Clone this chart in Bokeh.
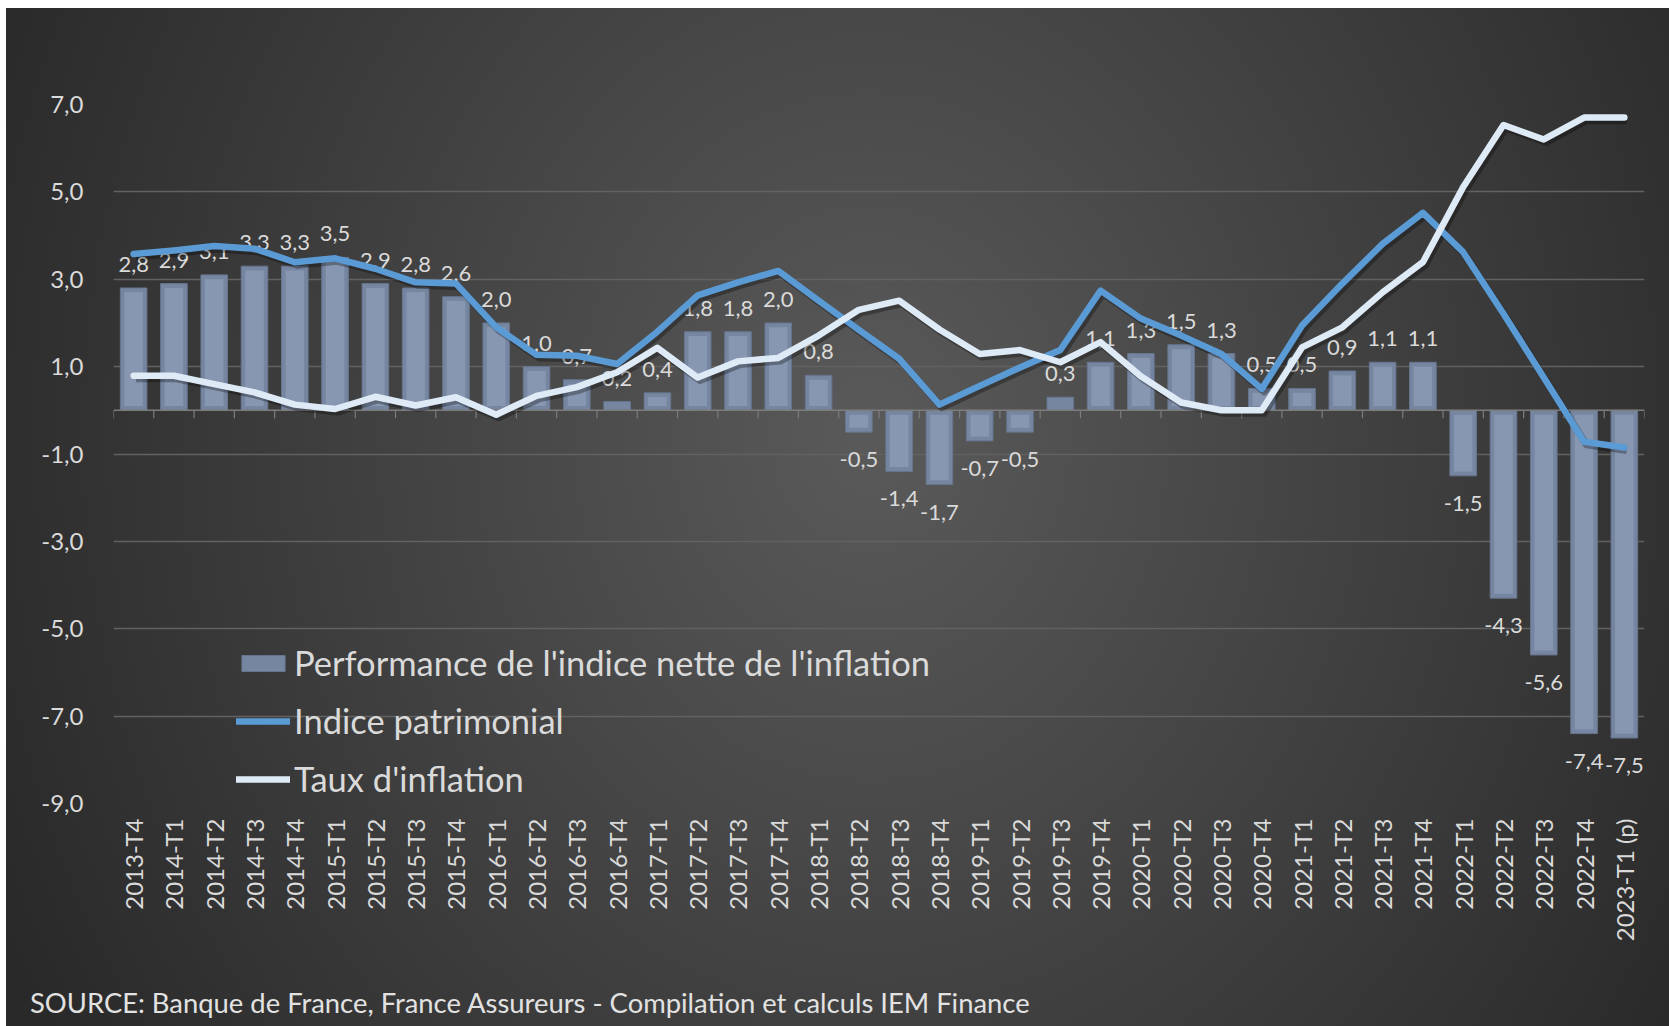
from bokeh.plotting import figure
from bokeh.models import FixedTicker, Legend, Div, Column
from bokeh.core.properties import value
from bokeh.embed import file_html
from bokeh.resources import INLINE

categories = ["2013-T4",
              "2014-T1", "2014-T2", "2014-T3", "2014-T4",
              "2015-T1", "2015-T2", "2015-T3", "2015-T4",
              "2016-T1", "2016-T2", "2016-T3", "2016-T4",
              "2017-T1", "2017-T2", "2017-T3", "2017-T4",
              "2018-T1", "2018-T2", "2018-T3", "2018-T4",
              "2019-T1", "2019-T2", "2019-T3", "2019-T4",
              "2020-T1", "2020-T2", "2020-T3", "2020-T4",
              "2021-T1", "2021-T2", "2021-T3", "2021-T4",
              "2022-T1", "2022-T2", "2022-T3", "2022-T4",
              "2023-T1 (p)"]

performance_nette = [2.8, 2.9, 3.1, 3.3, 3.3, 3.5, 2.9, 2.8, 2.6, 2.0,
                     1.0, 0.7, 0.2, 0.4, 1.8, 1.8, 2.0, 0.8, -0.5, -1.4,
                     -1.7, -0.7, -0.5, 0.3, 1.1, 1.3, 1.5, 1.3, 0.5, 0.5,
                     0.9, 1.1, 1.1, -1.5, -4.3, -5.6, -7.4, -7.5]

indice_patrimonial = [3.58, 3.66, 3.76, 3.70, 3.39, 3.48, 3.24, 2.93, 2.90, 1.90,
                      1.27, 1.25, 1.06, 1.80, 2.63, 2.93, 3.19, 2.51, 1.84, 1.18,
                      0.13, 0.56, 0.98, 1.38, 2.74, 2.10, 1.71, 1.29, 0.49, 1.94,
                      2.90, 3.81, 4.52, 3.62, 2.21, 0.75, -0.72, -0.85]

taux_inflation = [0.79, 0.79, 0.60, 0.41, 0.13, 0.03, 0.31, 0.11, 0.30, -0.10,
                  0.33, 0.53, 0.87, 1.43, 0.75, 1.12, 1.20, 1.71, 2.30, 2.51,
                  1.85, 1.29, 1.38, 1.10, 1.56, 0.78, 0.18, 0.00, 0.00, 1.44,
                  1.90, 2.70, 3.39, 5.11, 6.53, 6.20, 6.70, 6.70]

y_ticks = [-9, -7, -5, -3, -1, 1, 3, 5, 7]

legend_labels = ["Performance de l'indice nette de l'inflation",
                 "Indice patrimonial",
                 "Taux d'inflation"]

source_text = "SOURCE: Banque de France, France Assureurs - Compilation et calculs IEM Finance"

FONT = "Lato"
TXT = "#dadada"

n = len(categories)
xs = [i + 0.5 for i in range(n)]

p = figure(width=1669, height=985, output_backend="svg", toolbar_location=None,
           x_range=(0, n), y_range=(-9, 7),
           min_border_left=113, min_border_right=25,
           min_border_top=104, min_border_bottom=182,
           background_fill_color=None, border_fill_color=None,
           outline_line_color=None)

# grid
p.xgrid.grid_line_color = None
p.ygrid.ticker = FixedTicker(ticks=y_ticks)
p.ygrid.grid_line_color = "#626262"
p.ygrid.grid_line_width = 1.5

# axes
p.yaxis.ticker = FixedTicker(ticks=y_ticks)
p.yaxis.major_label_overrides = {t: f"{t:.1f}".replace(".", ",") for t in y_ticks}
p.yaxis.axis_line_color = None
p.yaxis.major_tick_line_color = None
p.yaxis.minor_tick_line_color = None
p.yaxis.major_label_standoff = 24
p.yaxis.major_label_text_font = FONT
p.yaxis.major_label_text_font_size = "24px"
p.yaxis.major_label_text_color = TXT

p.xaxis.ticker = FixedTicker(ticks=xs)
p.xaxis.major_label_overrides = {x: c for x, c in zip(xs, categories)}
p.xaxis.major_label_orientation = 3.14159265 / 2
p.xaxis.axis_line_color = None
p.xaxis.major_tick_line_color = None
p.xaxis.minor_tick_line_color = None
p.xaxis.major_label_standoff = 9
p.xaxis.major_label_text_font = FONT
p.xaxis.major_label_text_font_size = "24px"
p.xaxis.major_label_text_color = TXT

# bars (outer bevel + inner face)
bars = p.vbar(x=xs, top=performance_nette, bottom=0, width=0.66,
              fill_color="#7686a0", line_color="#66758e", line_width=1)
inner_x = [x for x, v in zip(xs, performance_nette) if abs(v) > 0.3]
inner_top = [v - 0.1 * (1 if v > 0 else -1) for v in performance_nette if abs(v) > 0.3]
inner_bot = [0.1 * (1 if v > 0 else -1) for v in performance_nette if abs(v) > 0.3]
p.vbar(x=inner_x, top=inner_top, bottom=inner_bot, width=0.46,
       fill_color="#8797b1", line_color=None)

# zero axis line with category ticks
p.segment(x0=[0], y0=[0], x1=[n], y1=[0], line_color="#7c7c7c", line_width=1.5)
bounds = list(range(n + 1))
p.segment(x0=bounds, y0=[0] * len(bounds), x1=bounds, y1=[-0.18] * len(bounds),
          line_color="#7c7c7c", line_width=1.2)

# data labels
pos_x = [x for x, v in zip(xs, performance_nette) if v >= 0]
pos_v = [v for v in performance_nette if v >= 0]
neg_x = [x for x, v in zip(xs, performance_nette) if v < 0]
neg_v = [v for v in performance_nette if v < 0]
fmt = lambda v: f"{v:.1f}".replace(".", ",")
p.text(x=pos_x, y=pos_v, text=[fmt(v) for v in pos_v], y_offset=-16,
       text_align="center", text_baseline="bottom", text_color=TXT,
       text_font=value(FONT), text_font_size="22px")
p.text(x=neg_x, y=neg_v, text=[fmt(v) for v in neg_v], y_offset=20,
       text_align="center", text_baseline="top", text_color=TXT,
       text_font=value(FONT), text_font_size="22px")

# line shadows
p.line([x + 0.06 for x in xs], [v - 0.07 for v in indice_patrimonial],
       line_color="black", line_alpha=0.3, line_width=7, line_join="round")
p.line([x + 0.06 for x in xs], [v - 0.07 for v in taux_inflation],
       line_color="black", line_alpha=0.3, line_width=7, line_join="round")

# lines
l1 = p.line(xs, indice_patrimonial, line_color="#5b9bd5", line_width=6.5,
            line_join="round", line_cap="round")
l2 = p.line(xs, taux_inflation, line_color="#deebf7", line_width=6.5,
            line_join="round", line_cap="round")

legend = Legend(items=[(legend_labels[0], [bars]), (legend_labels[1], [l1]),
                       (legend_labels[2], [l2])],
                location=(123, 4), orientation="vertical",
                background_fill_alpha=0, border_line_color=None,
                padding=0, margin=0, spacing=17, glyph_width=54, glyph_height=20,
                label_standoff=4, label_text_font=FONT, label_text_font_size="34.5px",
                label_text_color=TXT)
p.add_layout(legend, "center")

source = Div(text=source_text, width=1669, height=41,
             styles={"font-family": "Lato", "font-size": "27.4px",
                     "color": "#e2e2e2", "padding-left": "25px",
                     "line-height": "26px", "white-space": "nowrap"})

page = Column(children=[p, source], spacing=0, width=1669, height=1026,
              styles={"background":
                      "radial-gradient(ellipse 58% 110% at 52% 42%, #5a5a5a 0%, #292929 100%) "
                      "6px 8px / calc(100% - 6px) calc(100% - 8px) no-repeat, #ffffff"})

open("out.html", "w").write(file_html(page, INLINE))
